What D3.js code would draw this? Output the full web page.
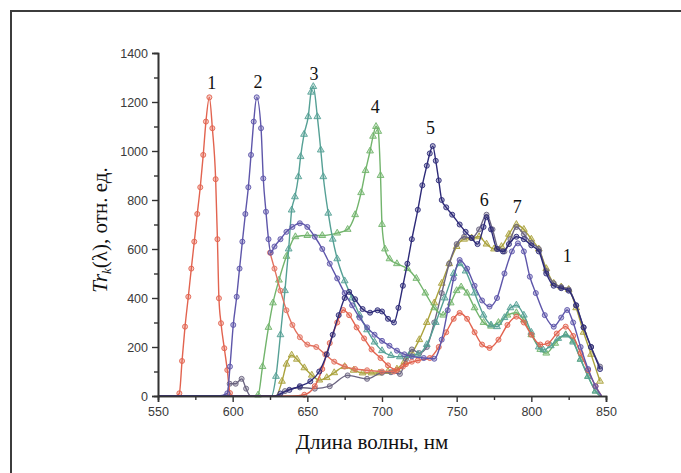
<!DOCTYPE html>
<html lang="ru">
<head>
<meta charset="utf-8">
<title>Tr_k(λ)</title>
<script src="https://d3js.org/d3.v7.min.js"></script>
<style>
  body { margin: 0; background: #fff; }
  svg { display: block; }
</style>
</head>
<body>
<div id="chart"></div>
<script>
const width = 681
const height = 473

// [длина волны, нм ; значение]
const curve1 = [[550,0],[562,0],[564.3,11],[566.1,143],[568.1,283],[570.3,405],[572.3,520],[574.3,630],[576.3,743],[578.3,852],[580.3,984],[582.1,1120],[584.4,1219],[586.4,1093],[588.6,885],[589.8,640],[590.8,399],[592.2,297],[594.4,195],[596.4,106],[598.2,12],[600,0],[620,0],[640,0],[648,5],[655,40],[660,110],[665,216],[670,300],[674,351],[678,330],[683,280],[688,235],[693,190],[699,155],[704,125],[710,106],[716,130],[724,145],[732,155],[738,200],[743,260],[748,315],[752,339],[757,315],[762,260],[767,210],[772,196],[778,230],[784,290],[790,324],[795,300],[800,250],[806,210],[811,215],[817,255],[823,283],[828,245],[833,175],[838,105],[843,40],[847,0]]
const curve1b = [[625,585],[628,520],[632,430],[636,350],[640,290],[645,240],[650,210],[656,200],[662,170],[668,140],[675,120],[682,110],[690,105],[700,100],[708,100],[714,120],[720,140]]
const curve2 = [[550,0],[590,0],[596.4,11],[598.2,120],[600.4,290],[602.7,405],[604.6,520],[606.5,630],[608.5,743],[610.5,852],[612.3,984],[614.1,1120],[616.1,1219],[619,1093],[620.5,888],[622.3,752],[624,640],[625.5,585],[628,610],[632,640],[636,670],[640,690],[645,705],[650,690],[655,650],[660,600],[665,540],[670,480],[675,420],[680,370],[685,320],[690,280],[695,250],[700,225],[705,205],[710,185],[715,170],[720,162],[728,155],[735,152],[740,230],[744,350],[748,480],[752,555],[757,520],[762,450],[767,390],[772,365],[777,400],[782,500],[787,590],[791,623],[795,590],[799,487],[803,420],[809,330],[815,283],[820,320],[824,351],[828,300],[833,200],[838,110],[843,40],[847,0]]
const curve3 = [[550,0],[626,0],[629,80],[632,250],[635,430],[637.5,600],[639.5,759],[641.7,813],[644,895],[645.5,977],[647.8,1068],[650.6,1140],[652.5,1240],[654,1263],[656.7,1140],[659,1004],[660.7,895],[664,746],[667,640],[670,560],[675,470],[680,400],[685,330],[690,270],[695,220],[700,185],[706,165],[712,160],[718,165],[724,170],[730,210],[736,300],[742,400],[748,500],[752,540],[756,510],[762,420],[768,330],[773,290],[777,283],[782,320],[786,360],[790,371],[795,330],[800,260],[805,200],[808,188],[813,205],[818,235],[823,249],[828,220],[833,150],[838,80],[843,20],[846,0]]
const curve4 = [[550,0],[612,0],[617,4],[620,120],[624,280],[627,380],[631,473],[636,570],[642,650],[650,655],[660,655],[670,665],[677,680],[682,740],[686,830],[689,920],[692,1000],[694,1060],[696,1100],[697.5,1080],[699,900],[700,700],[702,600],[705,560],[710,540],[717,520],[723,480],[729,420],[735,360],[741,330],[746,380],[750,430],[753,445],[757,420],[762,360],[768,300],[773,285],[778,300],[784,330],[790,340],[795,310],[800,250],[806,190],[810,175],[816,215],[823,250],[828,225],[833,150],[838,80],[843,20],[846,0]]
const curve5 = [[550,0],[628,0],[632,10],[638,25],[645,40],[652,60],[658,100],[663,170],[667,250],[671,330],[675,400],[678,425],[682,395],[687,355],[692,340],[697,350],[700,345],[704,315],[708,300],[711,360],[714,450],[717,540],[720,640],[724,760],[727,860],[730,940],[732,990],[734,1020],[736,960],[738,880],[740,800],[743,770],[747,740],[752,700],[756,670],[760,645],[764,620],[768,690],[770,730],[773,680],[777,600],[781,590],[785,620],[790,650],[795,640],[800,615],[805,590],[810,500],[815,450],[820,440],[825,430],[830,370],[835,280],[840,200],[846,110]]
const curve6 = [[550,0],[596,0],[598,50],[602,50],[606,70],[609,30],[612,0],[630,0],[635,20],[645,35],[655,30],[665,40],[677,84],[690,70],[700,95],[706,97],[712,90],[716,150],[720,190],[725,175],[730,200],[735,300],[740,420],[745,540],[750,620],[755,650],[760,645],[765,680],[770,740],[774,680],[778,600],[782,590],[786,640],[790,690],[795,660],[800,625],[805,600],[810,510],[815,460],[820,445],[825,435],[830,370],[835,280],[840,200],[846,120]]
const curve7 = [[550,0],[629,0],[633,60],[636,130],[639.5,167],[643,150],[648,115],[653,85],[658,65],[663,75],[668,95],[675,120],[681,105],[687,94],[693,94],[698,94],[704,100],[710,110],[715,140],[720,175],[725,230],[730,300],[735,380],[740,460],[745,540],[750,610],[755,640],[760,645],[765,650],[770,620],[775,600],[780,610],[785,660],[790,700],[795,680],[800,640],[805,600],[810,520],[815,460],[820,445],[825,435],[830,360],[835,260],[840,170],[846,60]]

const xTicks = [550, 600, 650, 700, 750, 800, 850]
const yTicks = [0, 200, 400, 600, 800, 1000, 1200, 1400]

const peakLabels = [
    {t: '1', x: 586, y: 1253},
    {t: '2', x: 617, y: 1258},
    {t: '3', x: 654.5, y: 1290},
    {t: '4', x: 695.5, y: 1155},
    {t: '5', x: 732.5, y: 1070},
    {t: '6', x: 768.5, y: 775},
    {t: '7', x: 790.5, y: 748},
    {t: '1', x: 824, y: 545}
]

const series = [
    {data: curve7, color: '#aaa23c', mark: d3.symbolTriangle},
    {data: curve6, color: '#6b6480', mark: d3.symbolCircle},
    {data: curve4, color: '#72b46c', mark: d3.symbolTriangle},
    {data: curve3, color: '#55a095', mark: d3.symbolTriangle},
    {data: curve1b, color: '#e2705e', mark: d3.symbolCircle},
    {data: curve1, color: '#e2634f', mark: d3.symbolCircle},
    {data: curve2, color: '#5e56aa', mark: d3.symbolCircle},
    {data: curve5, color: '#2d2a78', mark: d3.symbolCircle}
]

const svg = d3.select('#chart').append('svg')
    .attr('width', width)
    .attr('height', height)

// рамка
svg.append('rect')
    .attr('x', 11).attr('y', 11)
    .attr('width', 720).attr('height', 520)
    .attr('fill', 'none')
    .attr('stroke', '#3c3c3c')
    .attr('stroke-width', 2)

const xScale = d3.scaleLinear().domain([550, 850]).range([158, 606])
const yScale = d3.scaleLinear().domain([0, 1400]).range([396, 53])

const plot = svg.append('g')

const line = d3.line()
    .x(d => xScale(d[0]))
    .y(d => yScale(d[1]))
    .curve(d3.curveMonotoneX)

series.forEach(s => {
    plot.append('path')
        .datum(s.data)
        .attr('d', line)
        .attr('fill', 'none')
        .attr('stroke', s.color)
        .attr('stroke-width', 1.4)
    plot.selectAll(null)
        .data(s.data.filter(d => d[1] > 0))
        .enter()
        .append('path')
        .attr('d', d3.symbol().type(s.mark).size(20))
        .attr('transform', d => `translate(${xScale(d[0])},${yScale(d[1])})`)
        .attr('fill', s.color)
        .attr('fill-opacity', 0.35)
        .attr('stroke', s.color)
        .attr('stroke-width', 0.9)
})

// оси
const axisColor = '#333'
svg.append('g')
    .attr('transform', `translate(0, ${yScale(0)})`)
    .call(d3.axisBottom(xScale).tickValues(xTicks).tickSize(6).tickPadding(5).tickFormat(d3.format('d')))
svg.append('g')
    .attr('transform', `translate(0, ${yScale(0)})`)
    .call(d3.axisBottom(xScale).tickValues(d3.range(575, 850, 50)).tickSize(4).tickFormat(''))
svg.append('g')
    .attr('transform', `translate(${xScale(550)}, 0)`)
    .call(d3.axisLeft(yScale).tickValues(yTicks).tickSize(6).tickPadding(4).tickFormat(d3.format('d')))
svg.append('g')
    .attr('transform', `translate(${xScale(550)}, 0)`)
    .call(d3.axisLeft(yScale).tickValues(d3.range(100, 1400, 200)).tickSize(4).tickFormat(''))

svg.selectAll('.domain').attr('stroke', axisColor).attr('stroke-width', 1.6)
svg.selectAll('.tick line').attr('stroke', axisColor).attr('stroke-width', 1.4)
svg.selectAll('.tick text')
    .attr('fill', '#3a3a3a')
    .style('font-family', '"Liberation Sans", Arial, sans-serif')
    .style('font-size', '12.5px')

// подписи пиков
svg.append('g').selectAll('text')
    .data(peakLabels)
    .enter()
    .append('text')
    .attr('x', d => xScale(d.x))
    .attr('y', d => yScale(d.y))
    .attr('text-anchor', 'middle')
    .style('font-family', '"Liberation Serif", "Times New Roman", serif')
    .style('font-size', '18px')
    .attr('fill', '#111')
    .text(d => d.t)

// подписи осей
svg.append('text')
    .attr('x', 372)
    .attr('y', 449)
    .attr('text-anchor', 'middle')
    .style('font-family', '"Liberation Serif", "Times New Roman", serif')
    .style('font-size', '21px')
    .attr('fill', '#111')
    .text('Длина волны, нм')

const yLabel = svg.append('text')
    .attr('transform', 'translate(107, 230) rotate(-90)')
    .attr('text-anchor', 'middle')
    .style('font-family', '"Liberation Serif", "Times New Roman", serif')
    .style('font-size', '21px')
    .attr('fill', '#111')
yLabel.append('tspan').style('font-style', 'italic').text('Tr')
yLabel.append('tspan').style('font-style', 'italic').style('font-size', '13px').attr('dy', 4).text('k')
yLabel.append('tspan').attr('dy', -4).text('(λ), отн. ед.')
</script>
</body>
</html>
